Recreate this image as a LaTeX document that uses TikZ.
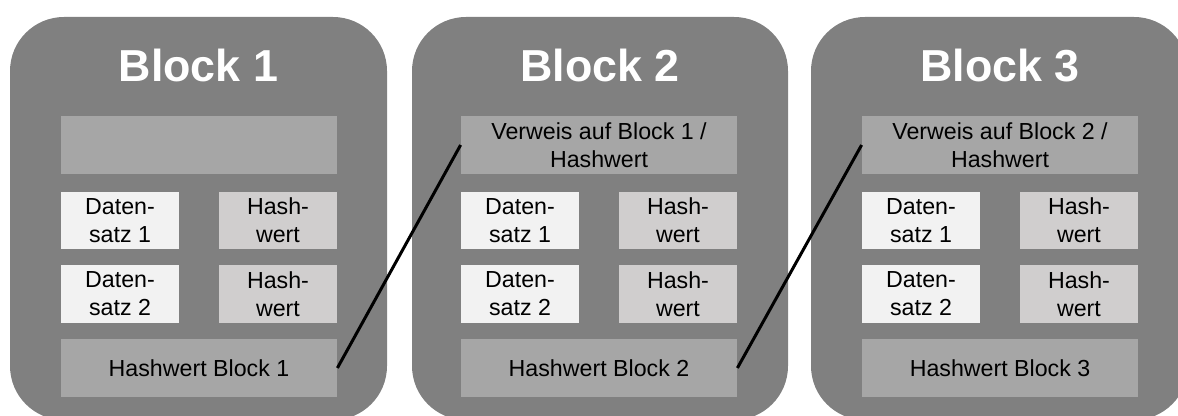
\documentclass[tikz,border=0pt]{standalone}
\usepackage{fontspec}
\setmainfont{Liberation Sans}
\definecolor{blockgray}{HTML}{808080}
\definecolor{bargray}{HTML}{A6A6A6}
\definecolor{datagray}{HTML}{F2F2F2}
\definecolor{hashgray}{HTML}{D0CECE}
\begin{document}
\begin{tikzpicture}[x=0.5pt,y=-0.5pt,
  blockbox/.style={fill=blockgray,rounded corners=27pt},
  title/.style={anchor=base,text=white,inner sep=0pt,
    font=\fontsize{22.4}{26}\selectfont\bfseries},
  bar/.style={fill=bargray,minimum width=138pt,minimum height=29pt,
    inner sep=0pt,align=center,font=\fontsize{11.6}{13.9}\selectfont},
  cell/.style={minimum width=59pt,minimum height=28.8pt,
    inner sep=0pt,align=center,font=\fontsize{11.6}{13.9}\selectfont},
  data/.style={cell,fill=datagray},
  hash/.style={cell,fill=hashgray},
  link/.style={line width=1.5pt,black}]

\useasboundingbox (0,0) rectangle (1178,416);

% Block 1
\fill[blockbox] (10,17) rectangle (387,420);
\node[title] (t1) at (198.5,82) {Block 1};
\node[bar] (ref1) at (199,145) {};
\node[data] (d11) at (120,220.5) {Daten-\\satz 1};
\node[hash] (h11) at (278,220.5) {Hash-\\wert};
\node[data] (d12) at (120,294) {Daten-\\satz 2};
\node[hash] (h12) at (278,294) {Hash-\\wert};
\node[bar] (hb1) at (199,368) {Hashwert Block 1};

% Block 2
\fill[blockbox] (412,17) rectangle (788,420);
\node[title] (t2) at (600,82) {Block 2};
\node[bar] (ref2) at (599,145) {Verweis auf Block 1 /\\Hashwert};
\node[data] (d21) at (520,220.5) {Daten-\\satz 1};
\node[hash] (h21) at (678,220.5) {Hash-\\wert};
\node[data] (d22) at (520,294) {Daten-\\satz 2};
\node[hash] (h22) at (678,294) {Hash-\\wert};
\node[bar] (hb2) at (599,368) {Hashwert Block 2};

% Block 3
\fill[blockbox] (811,17) rectangle (1188,420);
\node[title] (t3) at (1000,82) {Block 3};
\node[bar] (ref3) at (1000,145) {Verweis auf Block 2 /\\Hashwert};
\node[data] (d31) at (921,220.5) {Daten-\\satz 1};
\node[hash] (h31) at (1079,220.5) {Hash-\\wert};
\node[data] (d32) at (921,294) {Daten-\\satz 2};
\node[hash] (h32) at (1079,294) {Hash-\\wert};
\node[bar] (hb3) at (1000,368) {Hashwert Block 3};

% links
\draw[link] (hb1.east) -- (ref2.west);
\draw[link] (hb2.east) -- (ref3.west);

\end{tikzpicture}
\end{document}
